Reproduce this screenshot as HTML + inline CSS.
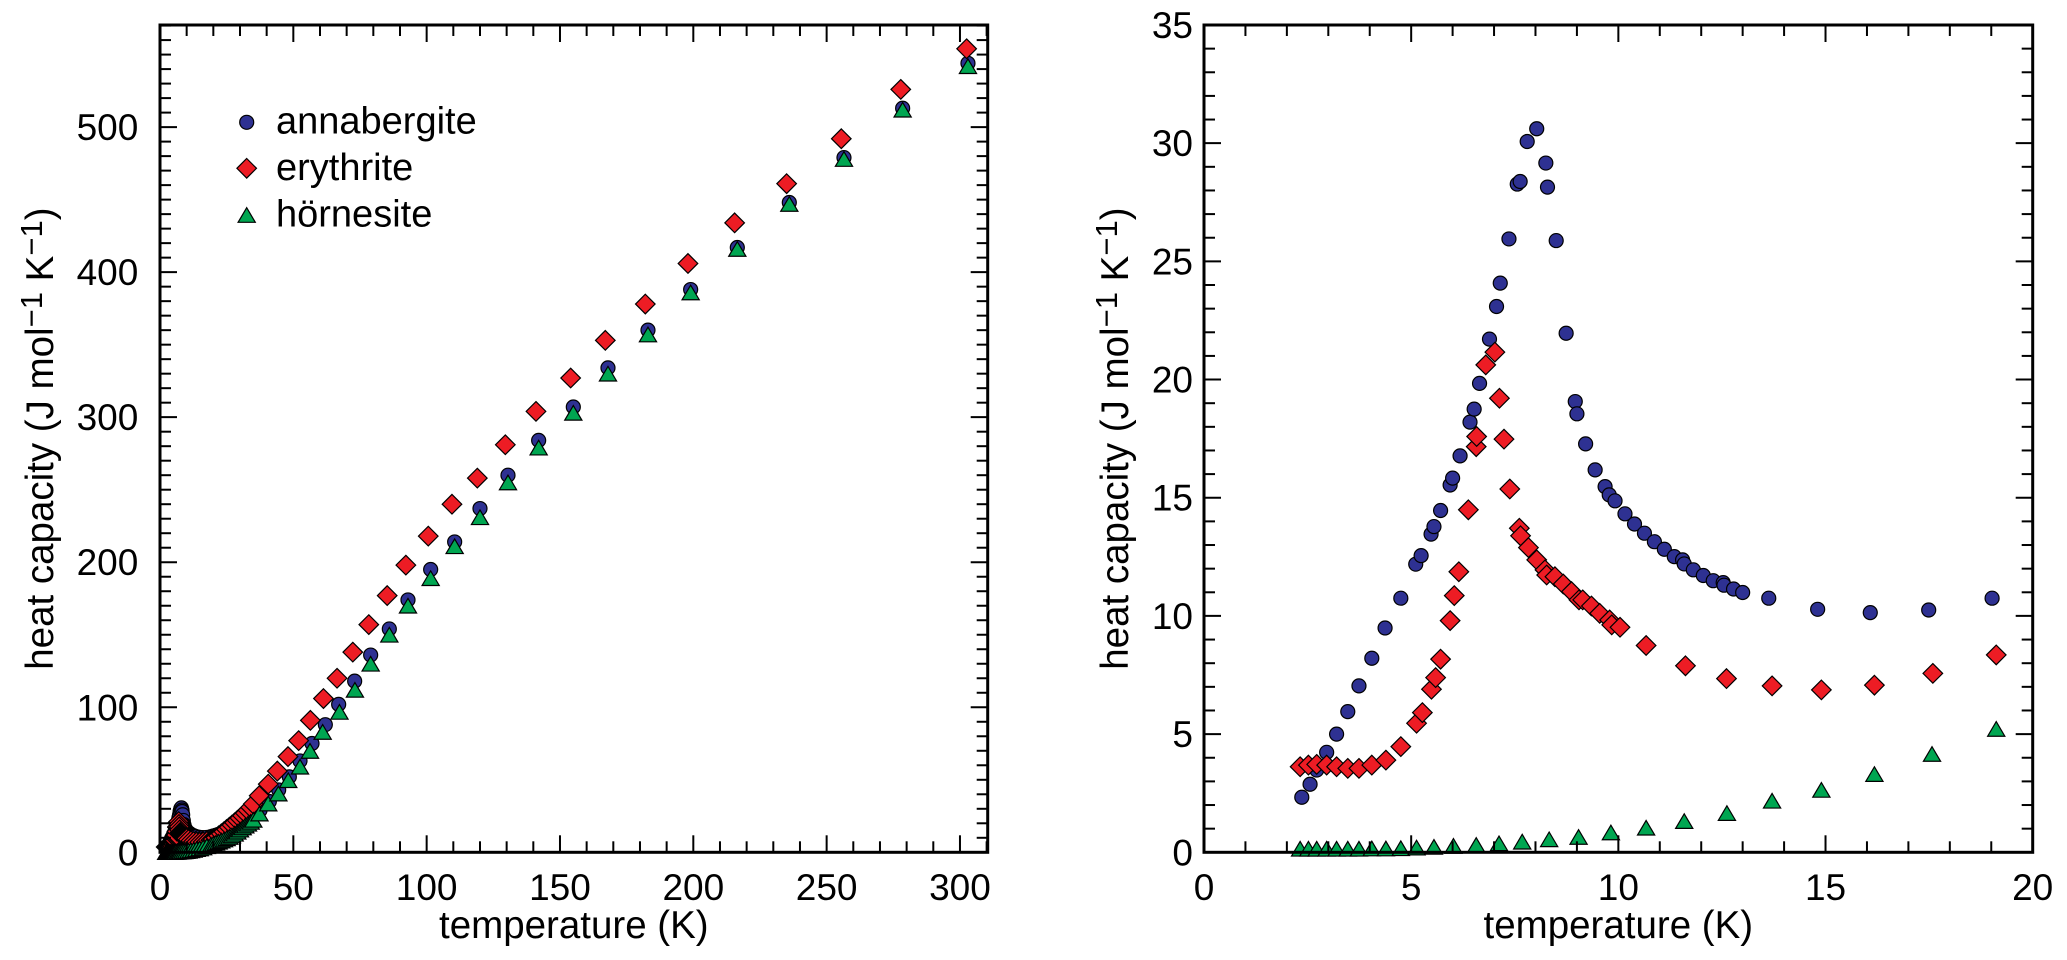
<!DOCTYPE html>
<html><head><meta charset="utf-8">
<style>
html,body{margin:0;padding:0;background:#fff;}
svg{display:block;}
text{font-family:"Liberation Sans",Arial,sans-serif;fill:#000;}
</style></head>
<body>
<svg id="s" width="2067" height="960" viewBox="0 0 2067 960" xmlns="http://www.w3.org/2000/svg">
<rect width="2067" height="960" fill="#fff"/>
<g id="pts"></g>
<g id="axes"></g>
<g id="lbl" font-size="37"></g>
<!-- axis titles -->
<text transform="translate(53,438.6) rotate(-90)" text-anchor="middle" font-size="38.5">heat capacity (J mol<tspan dy="-11" font-size="31">−1</tspan><tspan dy="11"> K</tspan><tspan dy="-11" font-size="31">−1</tspan><tspan dy="11">)</tspan></text>
<text transform="translate(1128,438.6) rotate(-90)" text-anchor="middle" font-size="38.5">heat capacity (J mol<tspan dy="-11" font-size="31">−1</tspan><tspan dy="11"> K</tspan><tspan dy="-11" font-size="31">−1</tspan><tspan dy="11">)</tspan></text>
<text x="573.85" y="938" text-anchor="middle" font-size="38.5">temperature (K)</text>
<text x="1618.35" y="938" text-anchor="middle" font-size="38.5">temperature (K)</text>
<!-- legend -->
<g id="leg"></g>
<text x="276" y="133.5" font-size="38">annabergite</text>
<text x="276" y="180" font-size="38">erythrite</text>
<text x="276" y="226.5" font-size="38">hörnesite</text>
</svg>
<script>
(function(){
const NS="http://www.w3.org/2000/svg";
function el(tag,attrs,parent){const e=document.createElementNS(NS,tag);for(const k in attrs)e.setAttribute(k,attrs[k]);parent.appendChild(e);return e;}
const pts=document.getElementById('pts'), ax=document.getElementById('axes'), lbl=document.getElementById('lbl'), leg=document.getElementById('leg');
const COL={A:'#2e3192',E:'#ed1c24',H:'#00a651'};
function marker(type,x,y,g){
  if(type==='A') el('circle',{cx:x,cy:y,r:7,fill:COL.A,stroke:'#000','stroke-width':1.2},g);
  else if(type==='E'){const d=9.8; el('polygon',{points:(x)+','+(y-d)+' '+(x+d)+','+y+' '+x+','+(y+d)+' '+(x-d)+','+y,fill:COL.E,stroke:'#000','stroke-width':1.2},g);}
  else el('polygon',{points:(x-8.6)+','+(y+7.3)+' '+(x+8.6)+','+(y+7.3)+' '+x+','+(y-7.3),fill:COL.H,stroke:'#000','stroke-width':1.2},g);
}
const L={x0:160,x1:987.7,y0:25,y1:852.3,xmax:310.4,ymax:570.4};
const R={x0:1204,x1:2032.7,y0:25,y1:852.3,xmax:20,ymax:35};
function px(P,t){return P.x0+t*(P.x1-P.x0)/P.xmax;}
function py(P,c){return P.y1-c*(P.y1-P.y0)/P.ymax;}

const RA=[[2.36,2.33],[2.56,2.88],[2.72,3.48],[2.96,4.23],[3.20,5.0],[3.47,5.95],[3.74,7.04],[4.05,8.21],[4.37,9.49],[4.75,10.75],[5.11,12.19],[5.24,12.55],[5.48,13.46],[5.55,13.78],[5.71,14.46],[5.94,15.54],[6.00,15.83],[6.18,16.77],[6.42,18.2],[6.52,18.75],[6.65,19.84],[6.89,21.71],[7.06,23.09],[7.15,24.08],[7.36,25.95],[7.56,28.27],[7.63,28.38],[7.80,30.07],[8.03,30.61],[8.25,29.16],[8.29,28.14],[8.50,25.88],[8.74,21.96],[8.96,19.07],[9.0,18.55],[9.21,17.28],[9.44,16.18],[9.68,15.47],[9.78,15.12],[9.92,14.87],[10.16,14.32],[10.39,13.89],[10.63,13.5],[10.87,13.14],[11.11,12.82],[11.35,12.51],[11.55,12.37],[11.59,12.2],[11.81,11.95],[12.05,11.71],[12.29,11.49],[12.53,11.41],[12.55,11.3],[12.78,11.14],[13.0,10.99],[13.63,10.75],[14.81,10.28],[16.08,10.14],[17.49,10.25],[19.02,10.75]];
const RE=[[2.32,3.62],[2.52,3.69],[2.72,3.72],[2.96,3.69],[3.20,3.62],[3.47,3.55],[3.74,3.55],[4.05,3.69],[4.39,3.9],[4.75,4.47],[5.13,5.46],[5.27,5.91],[5.49,6.90],[5.59,7.39],[5.71,8.17],[5.94,9.8],[6.04,10.86],[6.15,11.87],[6.38,14.49],[6.57,17.16],[6.58,17.59],[6.80,20.62],[7.02,21.16],[7.13,19.21],[7.24,17.48],[7.38,15.37],[7.61,13.71],[7.64,13.39],[7.83,12.89],[8.03,12.37],[8.23,11.95],[8.27,11.73],[8.47,11.66],[8.67,11.35],[8.87,11.03],[9.05,10.68],[9.14,10.68],[9.35,10.42],[9.55,10.11],[9.79,9.83],[9.84,9.62],[10.04,9.52],[10.67,8.75],[11.62,7.89],[12.61,7.35],[13.71,7.04],[14.9,6.87],[16.18,7.07],[17.59,7.57],[19.12,8.35]];
const RH=[[2.32,0.15],[2.52,0.15],[2.72,0.15],[2.96,0.15],[3.20,0.15],[3.47,0.15],[3.74,0.15],[4.05,0.16],[4.39,0.16],[4.75,0.17],[5.13,0.2],[5.55,0.23],[6.02,0.27],[6.57,0.31],[7.12,0.38],[7.68,0.45],[8.33,0.55],[9.04,0.65],[9.82,0.84],[10.67,1.04],[11.59,1.32],[12.62,1.66],[13.71,2.18],[14.9,2.64],[16.18,3.31],[17.57,4.16],[19.12,5.22]];

const TA=[[19.02,10.75],[20.5,11.5],[22.5,12.5],[24.5,13.5],[26.5,15],[29,17],[31.5,20],[34.5,24],[37.5,29],[41,35],[44.5,43],[48.5,52],[52.5,63],[57,75],[62,88],[67,102],[73,118],[79,136],[86,154],[93,174],[101.5,195],[110.5,214],[120,237],[130.5,260],[142,284],[155,307],[168,334],[183,360],[199,388],[216.5,417],[236,448],[256.5,479],[278.5,513],[303,544]];
const TE=[[19.12,8.35],[20.5,9.5],[22.5,12],[24.5,15],[26.5,18],[29,22],[31.5,26],[34.5,32],[37.2,39],[40.6,47],[44,56],[48,66],[52,77],[56.4,91],[61.3,106],[66.4,120],[72.3,138],[78.3,157],[85.2,177],[92.2,198],[100.6,218],[109.5,240],[119,258],[129.5,281],[141,304],[154,327],[167,353],[182,378],[198,406],[215.5,434],[235,461],[255.5,492],[277.8,526],[302.5,554]];
const TH=[[19.12,5.22],[20.5,6.2],[22.5,7.7],[24.5,9.2],[26.5,11],[28.1,12.9],[31.25,17.5],[34.8,22],[37.3,26.7],[40.6,33.6],[44.4,40.5],[48.1,49.7],[52.5,59],[56.25,69.9],[61,83],[67.3,96.8],[73.1,112],[79,130],[86,150],[93,170],[101.5,189],[110.5,211],[120,231],[130.5,255],[142,279],[155,303],[168,330],[183,357],[199,386],[216.5,416],[236,447],[256.5,478],[278.5,512],[303,542]];

function interp(tab,t){
  for(let i=0;i<tab.length-1;i++){const a=tab[i],b=tab[i+1];if(t>=a[0]&&t<=b[0]){return a[1]+(b[1]-a[1])*(t-a[0])/(b[0]-a[0]);}}
  return tab[tab.length-1][1];
}
function leftSeries(rdat,tab){
  const out=rdat.slice();
  for(let t=20;t<=35;t+=1){out.push([t,interp(tab,t)]);}
  tab.forEach(p=>{if(p[0]>36)out.push(p);});
  return out;
}
const series=[['A',RA,TA],['E',RE,TE],['H',RH,TH]];
const gL=el('g',{},pts), gR=el('g',{},pts);
series.forEach(s=>{
  leftSeries(s[1],s[2]).forEach(p=>marker(s[0],px(L,p[0]),py(L,p[1]),gL));
});
series.forEach(s=>{
  s[1].forEach(p=>marker(s[0],px(R,p[0]),py(R,p[1]),gR));
});

function line(x1,y1,x2,y2){el('line',{x1:x1,y1:y1,x2:x2,y2:y2,stroke:'#000','stroke-width':2},ax);}
function axes(P,xstep,xmajN,ystep,ymajN){
  const nx=Math.floor(P.xmax/xstep+1e-6), ny=Math.floor(P.ymax/ystep+1e-6);
  for(let i=0;i<=nx;i++){const x=px(P,i*xstep);const len=(i%xmajN===0)?17:11;
    line(x,P.y1,x,P.y1-len); line(x,P.y0,x,P.y0+len);}
  for(let j=0;j<=ny;j++){const y=py(P,j*ystep);const len=(j%ymajN===0)?17:11;
    line(P.x0,y,P.x0+len,y); line(P.x1,y,P.x1-len,y);}
  el('rect',{x:P.x0,y:P.y0,width:P.x1-P.x0,height:P.y1-P.y0,fill:'none',stroke:'#000','stroke-width':3},ax);
}
axes(L,10,5,10,10);
axes(R,1,5,1,5);

function txt(x,y,s,anchor){const t=el('text',{x:x,y:y,'text-anchor':anchor},lbl);t.textContent=s;}
for(let v=0;v<=500;v+=100) txt(138.3,py(L,v)+13,String(v),'end');
for(let v=0;v<=300;v+=50) txt(px(L,v),900,String(v),'middle');
for(let v=0;v<=35;v+=5) txt(1193,py(R,v)+13,String(v),'end');
for(let v=0;v<=20;v+=5) txt(px(R,v),900,String(v),'middle');

marker('A',246.7,122.3,leg);
marker('E',246.7,168.3,leg);
marker('H',246.7,215,leg);
})();
</script>
</body></html>
